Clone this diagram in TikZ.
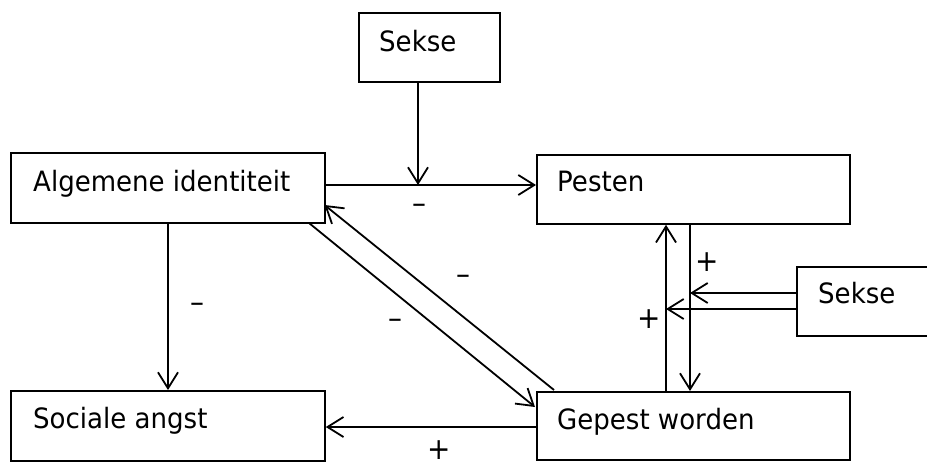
\documentclass[tikz,border=0pt]{standalone}
\usepackage{fontspec}
\setmainfont{DejaVu Sans}[FakeStretch=0.93]
\usetikzlibrary{arrows.meta}
\begin{document}
\begin{tikzpicture}[x=1pt,y=-1pt,
  box/.style={draw, line width=1.8pt, rectangle, inner sep=0pt, anchor=north west},
  lbl/.style={inner sep=0pt, anchor=base west, font=\fontsize{28}{32}\selectfont},
  sgn/.style={inner sep=0pt, font=\fontsize{30}{34}\selectfont},
  arr/.style={line width=1.8pt, -{Straight Barb[length=16pt,width=20pt,line width=1.8pt]}}]
\useasboundingbox (0,0) rectangle (927,463);
\begin{scope}
\clip (0,0) rectangle (927,463);
\node[box, minimum width=141pt, minimum height=69pt] (s1) at (358,12) {};
\node[box, minimum width=314pt, minimum height=70pt] (ai) at (10,152) {};
\node[box, minimum width=313pt, minimum height=69pt] (pe) at (536,154) {};
\node[box, minimum width=314pt, minimum height=70pt] (sa) at (10,390) {};
\node[box, minimum width=313pt, minimum height=68pt] (gw) at (536,391) {};
\node[box, minimum width=160pt, minimum height=69pt] (s2) at (796,266) {};
\end{scope}
\node[lbl] (ts1) at (379,51) {Sekse};
\node[lbl] (tai) at (33,191) {Algemene identiteit};
\node[lbl] (tpe) at (557,191) {Pesten};
\node[lbl] (tsa) at (33,428) {Sociale angst};
\node[lbl] (tgw) at (557,429) {Gepest worden};
\node[lbl] (ts2) at (818,303) {Sekse};
% connectors
\coordinate (m1) at (418,185);
\draw[arr] (ai.east |- m1) -- (pe.west |- m1);
\draw[arr] (s1.south -| m1) -- (m1);
\draw[arr] (ai.south -| 168,0) -- (sa.north -| 168,0);
\draw[arr] (gw.west |- 0,427) -- (sa.east |- 0,427);
\draw[arr] (309,223) -- (535,407);
\draw[arr] (554,390) -- (324.5,205);
\draw[arr] (gw.north -| 666,0) -- (pe.south -| 666,0);
\draw[arr] (pe.south -| 690,0) -- (gw.north -| 690,0);
\draw[arr] (s2.west |- 0,293) -- (690,293);
\draw[arr] (s2.west |- 0,309) -- (666,309);
% signs
\node[sgn] (n1) at (419,209) {–};
\node[sgn] (n2) at (197,308) {–};
\node[sgn] (n3) at (463,280) {–};
\node[sgn] (n4) at (395,324) {–};
\node[sgn] (n5) at (439,450) {+};
\node[sgn] (n6) at (707,262) {+};
\node[sgn] (n7) at (649,319) {+};
\end{tikzpicture}
\end{document}
